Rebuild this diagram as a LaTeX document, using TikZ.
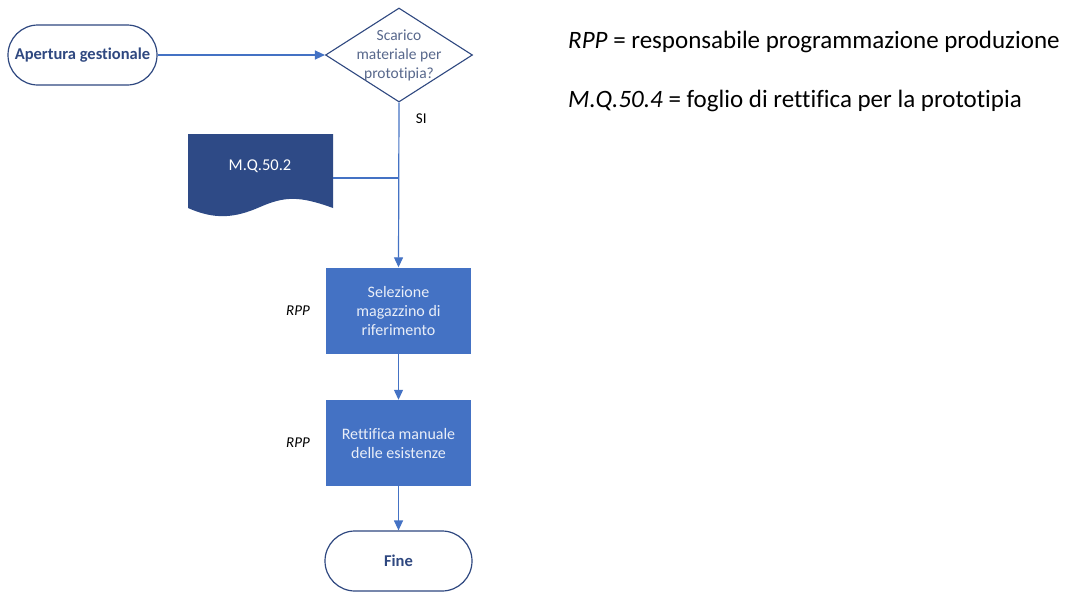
\documentclass[tikz,border=0pt]{standalone}
\usepackage{fontspec}
\setmainfont[Ligatures=NoCommon]{Carlito}
\usetikzlibrary{shapes.geometric,arrows.meta}
\definecolor{flowblue}{RGB}{68,114,196}
\definecolor{navy}{RGB}{47,72,128}
\definecolor{docnavy}{RGB}{46,74,134}
\definecolor{qtext}{RGB}{88,104,140}
\tikzset{
  x=1pt,y=-1pt,
  terminal/.style={draw=navy,line width=1.2pt,fill=white,rounded corners=30pt,
    minimum width=149pt,minimum height=60pt,font=\fontsize{16.5}{18}\selectfont\bfseries,text=navy},
  decision/.style={diamond,draw=navy,line width=1.1pt,fill=white,aspect=1.56,
    inner sep=0pt,minimum width=147pt,minimum height=94pt},
  decisiontext/.style={align=center,inner sep=0pt,font=\fontsize{15.5}{19}\selectfont,text=qtext},
  process/.style={rectangle,fill=flowblue,minimum width=145pt,minimum height=86pt,
    align=center,font=\fontsize{16}{19}\selectfont,text=white!88!flowblue},
  role/.style={font=\fontsize{15}{17}\selectfont\itshape},
  flow/.style={draw=flowblue,line width=1.2pt,-{Triangle[length=10pt,width=9pt]}},
  link/.style={draw=flowblue,line width=1.2pt},
  legend/.style={anchor=west,font=\fontsize{25}{28}\selectfont,inner sep=0pt}
}
\begin{document}
\begin{tikzpicture}
\useasboundingbox (0,0) rectangle (1071,592);
\fill[white] (0,0) rectangle (1071,592);

% start and question
\node[terminal,minimum width=149pt] (start) at (82.5,55) {Apertura gestionale};
\node[decision] (q) at (399,55) {};
\node[decisiontext] (qlabel) at (q.center) {Scarico\\materiale per\\prototipia?};

% document shape with wavy bottom
\fill[docnavy] (188,134) -- (333,134) -- (333,208)
  .. controls (300,196) and (285,196) .. (260,207)
  .. controls (235,218) and (215,220) .. (188,208) -- cycle;
\node[font=\fontsize{16.5}{18}\selectfont,text=white] (doc) at (260,166) {M.Q.50.2};
\coordinate (docR) at (333,178);

% process steps
\node[process] (sel) at (398.5,310.5) {Selezione\\magazzino di\\riferimento};
\node[process] (ret) at (398.5,443) {Rettifica manuale\\delle esistenze};
\node[terminal,minimum width=147pt] (fine) at (398.5,561) {Fine};

\node[role] (r1) at (298,311) {RPP};
\node[role] (r2) at (298,443) {RPP};

% connectors
\draw[flow] (start.east) -- (q.west);
\draw[flow] (q.south) -- node[pos=0.1,right=13pt,font=\fontsize{15}{17}\selectfont] (si) {SI} (sel.north);
\coordinate (join) at (q.south |- docR);
\draw[link] (docR) -- (join);
\draw[flow] (sel.south) -- (ret.north);
\draw[flow] (ret.south) -- (fine.north);

% legend
\node[legend] (l1) at (568,42) {\textit{RPP} = responsabile programmazione produzione};
\node[legend] (l2) at (568,101) {\textit{M.Q.50.4} = foglio di rettifica per la prototipia};
\end{tikzpicture}
\end{document}
